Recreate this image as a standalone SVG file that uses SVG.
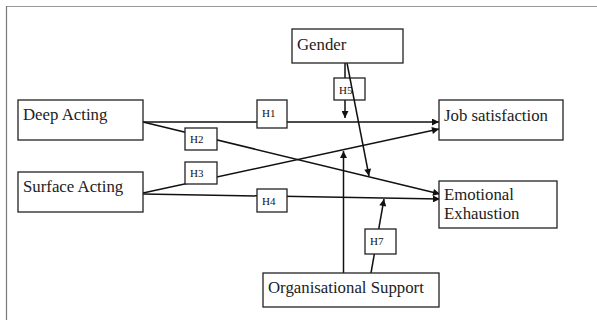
<svg xmlns="http://www.w3.org/2000/svg" width="597" height="320" viewBox="0 0 597 320">
<defs>
<style>
.box{fill:#fff;stroke:#222;stroke-width:1.3}
.t{font-family:"Liberation Serif","Times New Roman",serif;font-size:16.8px;fill:#222}
.h{font-family:"Liberation Serif","Times New Roman",serif;font-size:11px;fill:#111}
.c{stroke:#111;stroke-width:1.5;fill:none}
</style>
<marker id="a" viewBox="0 0 10 10" refX="10" refY="5" markerWidth="8" markerHeight="7" markerUnits="userSpaceOnUse" orient="auto">
<path d="M0,0 L10,5 L0,10 z" fill="#111"/>
</marker>
</defs>
<rect width="597" height="320" fill="#fff"/>
<line x1="6" y1="6.5" x2="597" y2="6.5" stroke="#999" stroke-width="1.2"/>
<line x1="6.5" y1="6" x2="6.5" y2="320" stroke="#777" stroke-width="1.2"/>
<g id="connectors">
<line class="c" x1="143" y1="122" x2="439" y2="122" marker-end="url(#a)"/>
<line class="c" x1="143" y1="122" x2="440" y2="194" marker-end="url(#a)"/>
<line class="c" x1="143" y1="193" x2="439" y2="129" marker-end="url(#a)"/>
<line class="c" x1="143" y1="194" x2="440" y2="199" marker-end="url(#a)"/>
<line class="c" x1="345" y1="63" x2="345" y2="118" marker-end="url(#a)"/>
<line class="c" x1="343.5" y1="273" x2="343.5" y2="151" marker-end="url(#a)"/>
<line class="c" x1="371" y1="273" x2="384" y2="199" marker-end="url(#a)"/>
</g>
<g id="h1"><rect class="box" x="257" y="100" width="30" height="28"/><text class="h" x="262" y="117">H1</text></g>
<g id="h2"><rect class="box" x="185" y="128" width="32" height="22"/><text class="h" x="190" y="143">H2</text></g>
<g id="h3"><rect class="box" x="185" y="162" width="32" height="22"/><text class="h" x="190" y="177">H3</text></g>
<g id="h4"><rect class="box" x="257" y="189" width="30" height="23"/><text class="h" x="262" y="205">H4</text></g>
<g id="h5"><rect class="box" x="334" y="78" width="31" height="22"/><text class="h" x="339" y="94">H5</text></g>
<g id="h7"><rect class="box" x="365" y="229" width="31" height="25"/><text class="h" x="370" y="245">H7</text></g>
<line class="c" x1="347" y1="63" x2="369" y2="176" marker-end="url(#a)"/>
<g id="deep-acting"><rect class="box" x="18" y="100" width="125" height="40"/><text class="t" x="23" y="120">Deep Acting</text></g>
<g id="surface-acting"><rect class="box" x="18" y="172" width="125" height="40"/><text class="t" x="23" y="192">Surface Acting</text></g>
<g id="gender"><rect class="box" x="292" y="29" width="111" height="34"/><text class="t" x="297" y="50">Gender</text></g>
<g id="job-satisfaction"><rect class="box" x="439" y="100" width="124" height="40"/><text class="t" x="444" y="121">Job satisfaction</text></g>
<g id="emotional-exhaustion"><rect class="box" x="439" y="181" width="118" height="47"/><text class="t" x="444" y="200">Emotional</text><text class="t" x="444" y="219">Exhaustion</text></g>
<g id="organisational-support"><rect class="box" x="263" y="273" width="176" height="34"/><text class="t" x="268" y="293">Organisational Support</text></g>
</svg>
